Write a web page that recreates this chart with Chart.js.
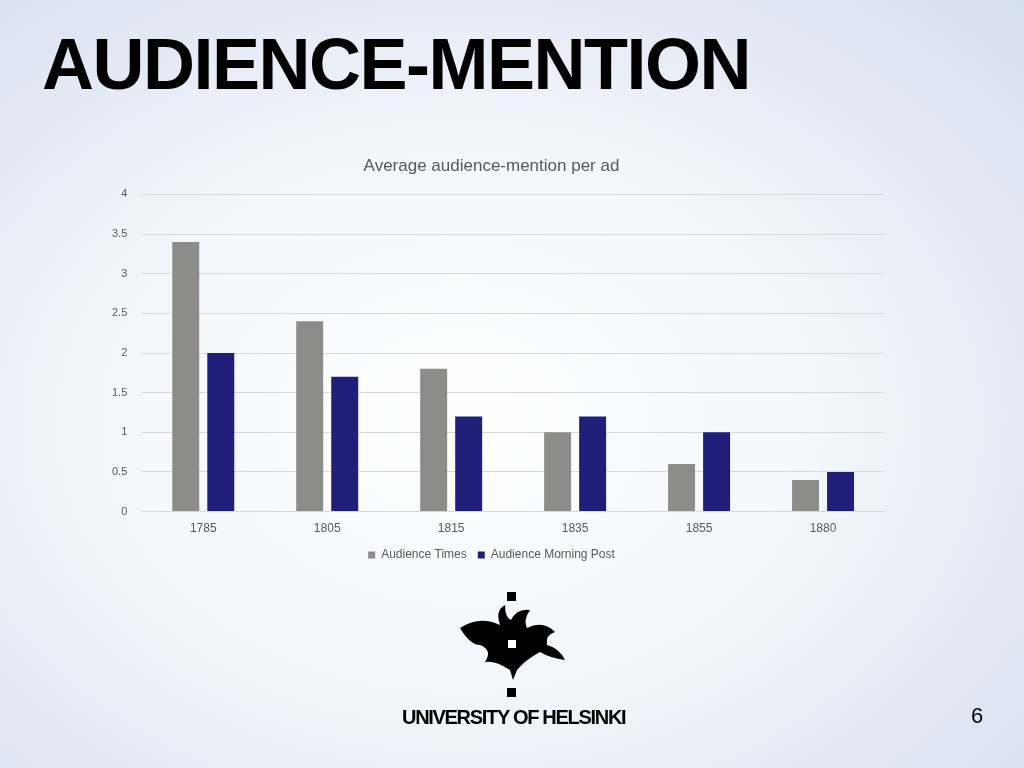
<!DOCTYPE html><html><head><meta charset="utf-8">
<script src="https://cdn.jsdelivr.net/npm/chart.js@4"></script>
<style>
body{margin:0;width:1024px;height:768px;overflow:hidden;background:radial-gradient(ellipse at 45% 55%,#ffffff 0%,#f3f6fb 45%,#d5deef 100%);font-family:Arial,"Liberation Sans",sans-serif;position:relative}
#t{position:absolute;left:42px;top:28px;font-size:72px;line-height:72px;font-weight:bold;letter-spacing:-1.5px;color:#000;font-family:"Liberation Sans",Arial,sans-serif}
#c{position:absolute;left:0;top:0}
#u{position:absolute;left:402px;top:706px;font-size:20px;font-weight:bold;letter-spacing:-1.3px}
#n{position:absolute;left:971px;top:703px;font-size:22px}
</style></head><body>
<div id="t">AUDIENCE-MENTION</div>
<canvas id="c" width="1024" height="768"></canvas>
<svg style="position:absolute;left:455px;top:590px" width="115" height="110">
<rect x="52" y="2" width="9" height="9" fill="#000"/>
<rect x="52" y="98" width="9" height="9" fill="#000"/>
<path d="M5 38 Q25 25 45 35 Q40 20 50 15 Q50 28 56 30 Q62 18 75 20 Q68 30 72 38 Q88 30 100 42 Q90 45 92 55 Q104 58 110 70 Q95 68 85 62 Q70 70 62 80 L58 90 L55 80 Q40 70 30 72 Q38 60 25 55 Q15 55 5 38 Z" fill="#000"/>
<rect x="53" y="50" width="8" height="8" fill="#fff"/>
</svg>
<div id="u">UNIVERSITY OF HELSINKI</div>
<div id="n">6</div>
<script>
const categories=["1785","1805","1815","1835","1855","1880"];
const times=[3.4,2.4,1.8,1.0,0.6,0.4];
const morningPost=[2.0,1.7,1.2,1.2,1.0,0.5];
Chart.defaults.font.family="Arial, 'Liberation Sans', sans-serif";
Chart.defaults.color="#595959";
new Chart(document.getElementById('c'),{type:'bar',
data:{labels:categories,datasets:[
{label:"Audience Times",data:times,backgroundColor:"#8c8c8a"},
{label:"Audience Morning Post",data:morningPost,backgroundColor:"#1f1f7a"}]},
options:{responsive:false,animation:false,
layout:{padding:{left:98,right:139,top:156,bottom:197}},
categoryPercentage:0.565,barPercentage:0.77,
plugins:{title:{display:true,text:"Average audience-mention per ad",font:{size:17,weight:'normal'},color:"#595959",padding:{top:0,bottom:18}},
legend:{position:'bottom',labels:{boxWidth:7,boxHeight:7,font:{size:12},padding:11}}},
scales:{y:{min:0,max:4,ticks:{stepSize:0.5,font:{size:11},padding:14,callback:v=>String(v)},grid:{color:"#d9d9d9",drawTicks:false},border:{display:false}},
x:{ticks:{font:{size:12},padding:2},grid:{display:false},border:{color:"#d9d9d9"}}}}});
</script></body></html>
